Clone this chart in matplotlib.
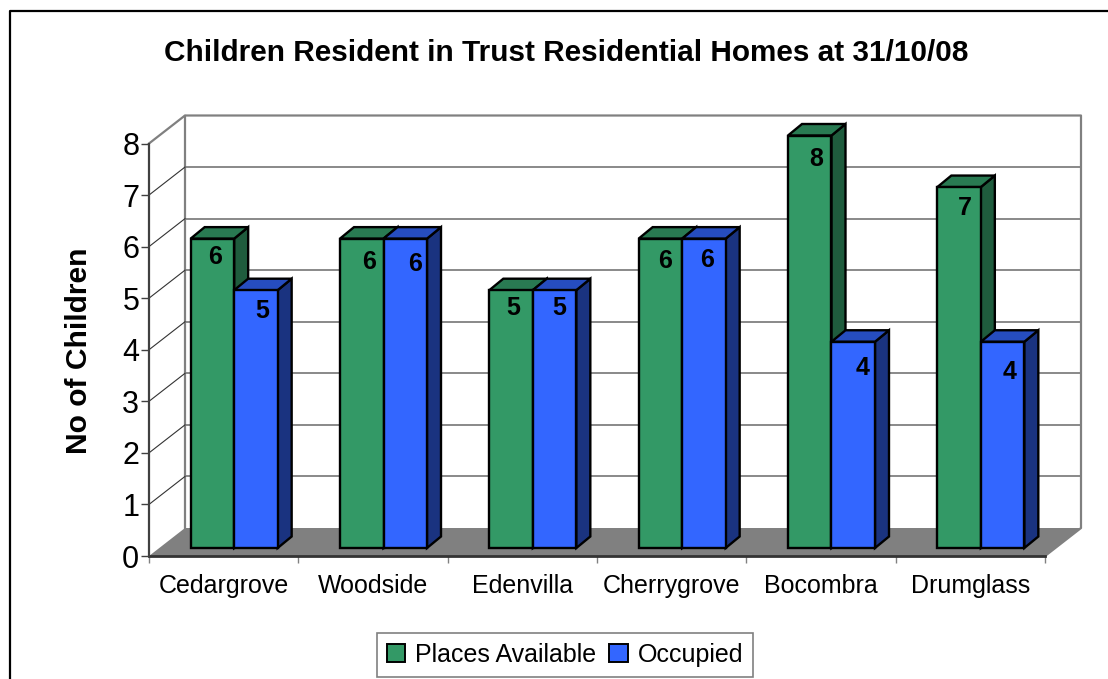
"""Children resident in trust homes, drawn as an old style 3D column chart."""
import matplotlib
matplotlib.use('Agg')
from matplotlib import pyplot as plt
from matplotlib.lines import Line2D
from matplotlib.patches import Patch, Polygon

plt.rcParams['font.family'] = ['Liberation Sans', 'DejaVu Sans']

homes = ['Cedargrove', 'Woodside', 'Edenvilla', 'Cherrygrove', 'Bocombra', 'Drumglass']
places_available = [6, 6, 5, 6, 8, 7]
occupied = [5, 6, 5, 6, 4, 4]
y_ticks = [0, 1, 2, 3, 4, 5, 6, 7, 8]

W, H = 1108, 679
X0, X1, Y0, Y8 = 149, 1045, 556, 143.5
PX = (X1 - X0) / len(homes)  # pixels per category
PY = (Y0 - Y8) / 8  # pixels per child

# depth of the walls and of the columns, in pixels turned to data units
WALL_DX, WALL_DY = 36 / PX, 28 / PY
BAR_DX, BAR_DY = 14 / PX, 11.5 / PY
SHIFT_DX, SHIFT_DY = 10.5 / PX, 8 / PY
BAR_W = 43.5 / PX

GREEN = ('#339966', '#297a52', '#1f5c3d')
BLUE = ('#3366ff', '#264dbf', '#1a3380')

# pixel nudges of the value labels, they are not centred in the original
green_nudge = [(3, -18), (7, -23), (2, -18), (5, -22), (6, -24), (6, -21)]
blue_nudge = [(6, -21), (10, -25), (5, -18), (3, -21), (9, -26), (7, -30)]

fig = plt.figure(figsize=(W / 100, H / 100), dpi=100)
fig.patch.set_facecolor('white')
ax = fig.add_axes([X0 / W, 1 - Y0 / H, (X1 - X0) / W, (Y0 - Y8) / H])
ax.set_xlim(0, len(homes))
ax.set_ylim(0, 8)
ax.patch.set_visible(False)
for s in ax.spines.values():
    s.set_visible(False)

# outer frame of the picture, only left and top are in view
fig.add_artist(Line2D([9.5 / W, 9.5 / W, 1],
                      [0, 1 - 10.5 / H, 1 - 10.5 / H], color='black', lw=1.6))

n = len(homes)
# floor
ax.add_patch(Polygon([(0, 0), (n, 0), (n + WALL_DX, WALL_DY), (WALL_DX, WALL_DY)],
                     fc='#808080', ec='none', zorder=1, clip_on=False))
# back wall and side wall lines
ax.plot([0, WALL_DX, n + WALL_DX, n + WALL_DX, n],
        [8, 8 + WALL_DY, 8 + WALL_DY, WALL_DY, 0], color='#808080', lw=1.6, zorder=1, clip_on=False)
ax.plot([WALL_DX, WALL_DX], [WALL_DY, 8 + WALL_DY], color='#808080', lw=1.6, zorder=1, clip_on=False)
for v in y_ticks[1:-1]:
    ax.plot([WALL_DX, n + WALL_DX], [v + WALL_DY, v + WALL_DY], color='#808080', lw=1.3, zorder=1, clip_on=False)
    ax.plot([0, WALL_DX], [v, v + WALL_DY], color='#333333', lw=0.8, zorder=1, clip_on=False)


def column(x, v, cols):
    x = x + SHIFT_DX
    b = SHIFT_DY
    t = b + v
    # side, top, then front
    ax.add_patch(Polygon([(x + BAR_W, b), (x + BAR_W + BAR_DX, b + BAR_DY),
                          (x + BAR_W + BAR_DX, t + BAR_DY), (x + BAR_W, t)],
                         fc=cols[2], ec='black', lw=1.7, zorder=3, clip_on=False, joinstyle='miter'))
    ax.add_patch(Polygon([(x, t), (x + BAR_W, t), (x + BAR_W + BAR_DX, t + BAR_DY), (x + BAR_DX, t + BAR_DY)],
                         fc=cols[1], ec='black', lw=1.7, zorder=3, clip_on=False, joinstyle='miter'))
    ax.add_patch(Polygon([(x, b), (x + BAR_W, b), (x + BAR_W, t), (x, t)],
                         fc=cols[0], ec='black', lw=1.7, zorder=3, clip_on=False, joinstyle='miter'))


for i in range(n):
    left = i + 0.5 - BAR_W
    column(left, places_available[i], GREEN)
    column(left + BAR_W, occupied[i], BLUE)
    for x, v, nudge in [(left, places_available[i], green_nudge[i]),
                        (left + BAR_W, occupied[i], blue_nudge[i])]:
        ax.annotate(str(v), (x + SHIFT_DX + BAR_W / 2, v + SHIFT_DY), xytext=nudge,
                    textcoords='offset pixels', ha='center', va='center', annotation_clip=False,
                    fontsize=18, fontweight='bold', color='black', zorder=5)

# axis lines and ticks
ax.plot([0, n], [0, 0], color='#333333', lw=2, zorder=4, clip_on=False)
ax.plot([0, 0], [0, 8], color='#404040', lw=1.6, zorder=4, clip_on=False)
ax.set_xticks(range(n + 1))
ax.set_xticklabels([])
ax.set_xticks([i + 0.5 for i in range(n)], homes, minor=True, fontsize=18)
ax.tick_params(axis='x', which='major', length=5, width=1, color='#808080', direction='out')
ax.tick_params(axis='x', which='minor', length=0, pad=13)
ax.set_yticks(y_ticks)
ax.tick_params(axis='y', length=6, width=1, color='#404040', labelsize=22, pad=1)

fig.text(566 / W, 1 - 53 / H, 'Children Resident in Trust Residential Homes at 31/10/08',
         ha='center', va='center', fontsize=21.4, fontweight='bold')
fig.text(79 / W, 1 - 351 / H, 'No of Children', rotation=90, ha='center', va='center',
         fontsize=21.6, fontweight='bold')

handles = [Patch(fc=GREEN[0], ec='black', lw=1.4), Patch(fc=BLUE[0], ec='black', lw=1.4)]
leg = fig.legend(handles, ['Places Available', 'Occupied'], loc='center',
                 bbox_to_anchor=(565 / W, 1 - 655 / H), ncol=2, frameon=True, fancybox=False,
                 edgecolor='#808080', fontsize=18, handlelength=0.75, handleheight=0.75,
                 handletextpad=0.4, columnspacing=0.5, borderpad=0.4, borderaxespad=0)
leg.get_frame().set_linewidth(1.2)
leg.get_frame().set_alpha(1)

fig.savefig('out.png', dpi=100)
